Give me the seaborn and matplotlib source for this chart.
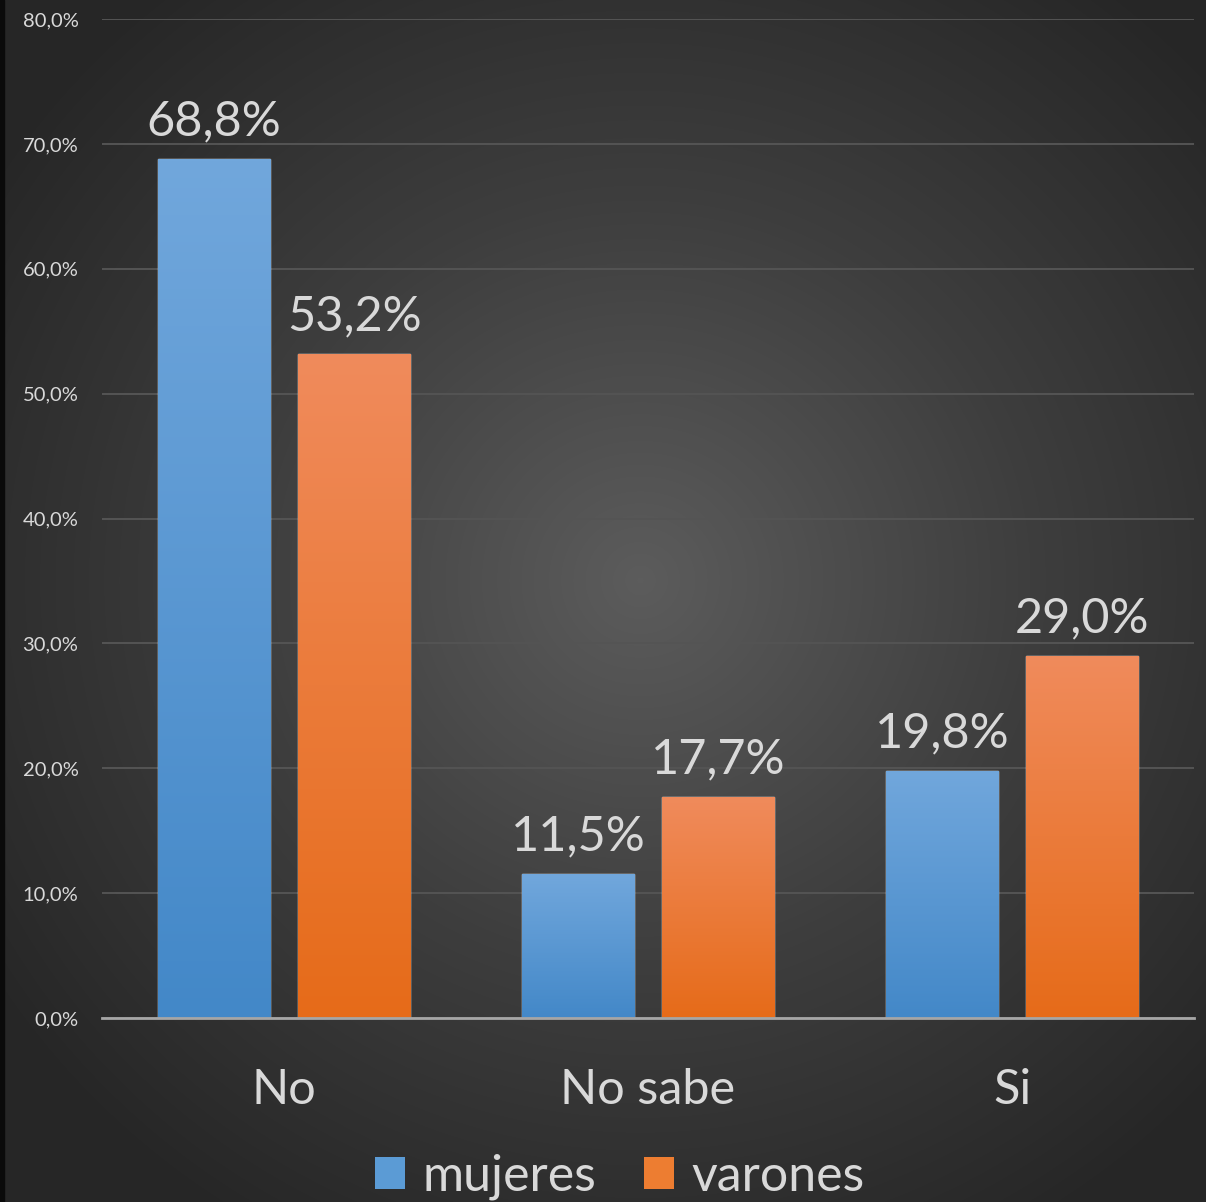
import numpy as np
import pandas as pd
import matplotlib
matplotlib.use("Agg")
import matplotlib.pyplot as plt
from matplotlib.colors import LinearSegmentedColormap
from matplotlib.patches import Patch
from matplotlib.ticker import FuncFormatter
import seaborn as sns

# datos
categorias = ["No", "No sabe", "Si"]
mujeres = [68.8, 11.5, 19.8]
varones = [53.2, 17.7, 29.0]
series = ["mujeres", "varones"]

df = pd.DataFrame({
    "respuesta": categorias * 2,
    "grupo": ["mujeres"] * 3 + ["varones"] * 3,
    "valor": mujeres + varones,
})

sns.set_theme(style="dark")
plt.rcParams["font.family"] = ["Lato", "DejaVu Sans"]

texto = "#d9d9d9"
colores = {"mujeres": "#5b9bd5", "varones": "#ed7d31"}
degradados = {
    "mujeres": ("#71a7dc", "#4388c8"),
    "varones": ("#f08b5c", "#e66b19"),
}

fig = plt.figure(figsize=(12.06, 12.02), dpi=100)

# fondo con degradado radial
fondo = fig.add_axes([0, 0, 1, 1], zorder=-10)
yy, xx = np.mgrid[0:1202, 0:1206]
r = np.sqrt(((xx - 640) / 780.0) ** 2 + ((yy - 580) / 760.0) ** 2)
r = np.clip(r, 0, 1)
cmap_fondo = LinearSegmentedColormap.from_list("f", ["#5c5c5c", "#3e3e3e", "#262626"])
fondo.imshow(r, cmap=cmap_fondo, aspect="auto", extent=(0, 1, 0, 1), vmin=0, vmax=1)
fondo.axvspan(0, 0.003, color="#0a0a0a")
fondo.set_xlim(0, 1)
fondo.set_ylim(0, 1)
fondo.axis("off")

ax = fig.add_axes([102 / 1206, 1 - 1018 / 1202, 1092 / 1206, 999 / 1202])
ax.set_facecolor("none")

sns.barplot(data=df, x="respuesta", y="valor", hue="grupo", order=categorias,
            hue_order=series, palette=colores, width=0.77, gap=0.195,
            ax=ax, legend=False, zorder=3)

ax.set_ylim(0, 80)
ax.set_yticks(np.arange(0, 81, 10))
ax.yaxis.set_major_formatter(FuncFormatter(lambda v, p: f"{v:.1f}%".replace(".", ",")))
ax.grid(axis="y", color="#545454", linewidth=1.4, zorder=0)
ax.grid(axis="x", visible=False)
for s in ["top", "right", "left"]:
    ax.spines[s].set_visible(False)
ax.spines["bottom"].set_color("#a6a6a6")
ax.spines["bottom"].set_linewidth(2)
ax.spines["bottom"].set_zorder(5)
ax.tick_params(axis="y", length=0, pad=17, labelsize=14.5, labelcolor=texto)
ax.tick_params(axis="x", length=0, pad=36, labelsize=35, labelcolor=texto)
ax.set_xlabel("")
ax.set_ylabel("")

# degradado en cada barra y etiquetas de valor
grad = np.linspace(0, 1, 256).reshape(-1, 1)
for contenedor, nombre in zip(ax.containers, series):
    cmap_barra = LinearSegmentedColormap.from_list(nombre, list(degradados[nombre]))
    for barra in contenedor:
        x0, y0 = barra.get_x(), barra.get_y()
        w, h = barra.get_width(), barra.get_height()
        img = ax.imshow(grad, cmap=cmap_barra, aspect="auto",
                        extent=(x0, x0 + w, y0, y0 + h), origin="upper", zorder=4)
        img.set_clip_path(barra)
        ax.annotate(f"{h:.1f}%".replace(".", ","), (x0 + w / 2, h),
                    xytext=(0, 17), textcoords="offset points",
                    ha="center", va="baseline", fontsize=35, color=texto, zorder=6)
ax.set_xlim(-0.5, 2.5)
ax.set_ylim(0, 80)

manijas = [Patch(facecolor=colores[s], edgecolor="none") for s in series]
fig.legend(manijas, series, loc="lower center", bbox_to_anchor=(0.514, -0.036),
           ncol=2, frameon=False, fontsize=36, labelcolor=texto,
           handlelength=0.6, handleheight=0.6, handletextpad=0.35, columnspacing=0.95)

fig.savefig("out.png", dpi=100)
